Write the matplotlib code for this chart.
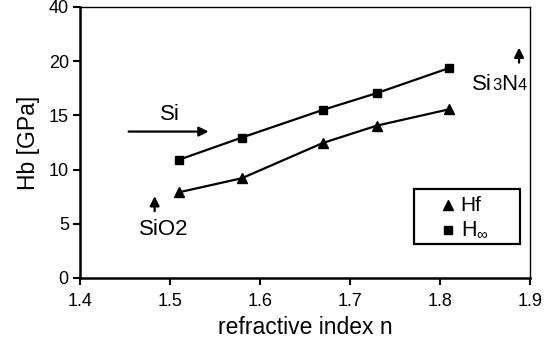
import matplotlib
matplotlib.use('Agg')
import matplotlib.pyplot as plt
from matplotlib.patches import Rectangle
from matplotlib.offsetbox import TextArea, HPacker, AnnotationBbox

# refractive index of the films
n = [1.51, 1.58, 1.67, 1.73, 1.81]
# hardness values [GPa]
h_f = [7.9, 9.2, 12.45, 14.05, 15.55]
h_inf = [10.9, 12.95, 15.5, 17.05, 19.35]

y_ticks = [0, 5, 10, 15, 20, 25]
y_tick_labels = ['0', '5', '10', '15', '20', '40']   # broken axis: top tick reads 40
x_ticks = [1.4, 1.5, 1.6, 1.7, 1.8, 1.9]


def main():
    plt.rcParams['font.family'] = ['Liberation Sans', 'DejaVu Sans']
    plt.rcParams['mathtext.fontset'] = 'custom'
    plt.rcParams['mathtext.rm'] = 'Liberation Sans'

    fig = plt.figure(figsize=(5.44, 3.44), dpi=100)
    ax = fig.add_axes([0.147, 0.192, 0.827, 0.788])

    ax.plot(n, h_f, color='black', lw=1.6, marker='^', ms=6.5)
    ax.plot(n, h_inf, color='black', lw=1.6, marker='s', ms=6)

    ax.set_xlim(1.4, 1.9)
    ax.set_ylim(0, 25)
    ax.set_xticks(x_ticks)
    ax.set_xticklabels(['%.1f' % v for v in x_ticks])
    ax.set_yticks(y_ticks)
    ax.set_yticklabels(y_tick_labels)
    ax.tick_params(direction='out', length=5, width=1.5, labelsize=13)
    ax.tick_params(axis='x', pad=6)
    ax.tick_params(axis='y', pad=3)

    for s in ['left', 'bottom']:
        ax.spines[s].set_linewidth(1.8)
    for s in ['top', 'right']:
        ax.spines[s].set_linewidth(1.0)

    ax.set_xlabel('refractive index n', fontsize=16.5, labelpad=4)
    ax.set_ylabel('Hb [GPa]', fontsize=16.5, labelpad=6)

    # material markers
    arr = dict(arrowstyle='-|>', color='black', lw=1.6, mutation_scale=14)
    ax.annotate('', xy=(1.546, 13.5), xytext=(1.451, 13.5), arrowprops=arr)
    ax.text(1.50, 15.1, 'Si', fontsize=16, ha='center', va='center')
    ax.annotate('', xy=(1.483, 7.8), xytext=(1.483, 5.9), arrowprops=arr)
    ax.text(1.493, 4.5, 'SiO2', fontsize=16, ha='center', va='center')
    ax.annotate('', xy=(1.888, 21.5), xytext=(1.888, 19.6), arrowprops=arr)

    # Si3N4 with smaller digits sitting on the baseline
    big = dict(fontsize=16)
    small = dict(fontsize=12)
    parts = [TextArea('Si', textprops=big), TextArea('3', textprops=small),
             TextArea('N', textprops=big), TextArea('4', textprops=small)]
    label = HPacker(children=parts, align='baseline', pad=0, sep=0)
    ab = AnnotationBbox(label, (1.866, 17.8), frameon=False, box_alignment=(0.5, 0.5))
    ax.add_artist(ab)

    # legend box
    ax.add_patch(Rectangle((0.742, 0.125), 0.236, 0.203, transform=ax.transAxes,
                           fill=False, edgecolor='black', lw=1.6, zorder=5))
    ax.plot([0.818], [0.269], marker='^', ms=6.5, color='black', transform=ax.transAxes)
    ax.plot([0.818], [0.177], marker='s', ms=5.5, color='black', transform=ax.transAxes)
    ax.text(0.846, 0.269, 'Hf', fontsize=15, va='center', transform=ax.transAxes)
    ax.text(0.846, 0.177, 'H$_{\\infty}$', fontsize=15.5, va='center', transform=ax.transAxes)

    fig.savefig('out.png', dpi=100)


if __name__ == '__main__':
    main()
